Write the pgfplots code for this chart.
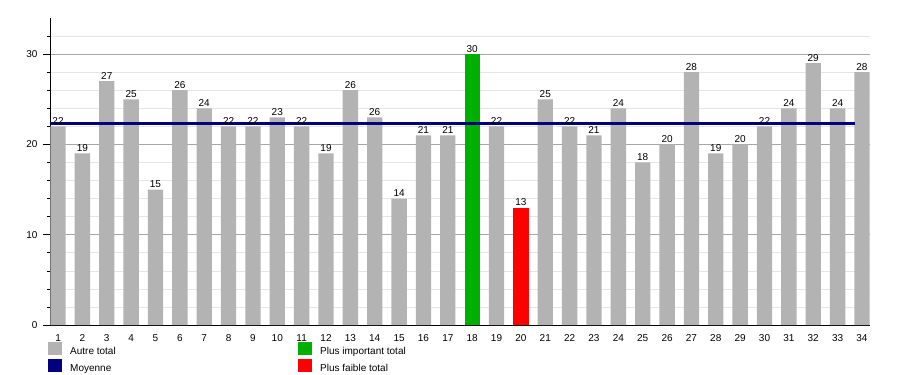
\documentclass[border=0pt]{standalone}
\usepackage{fontspec}
\setmainfont{Liberation Sans}
\usepackage{pgfplots}
\usepackage{pgfplotstable}
\pgfplotsset{compat=1.18}
\definecolor{barg}{HTML}{B3B3B3}
\definecolor{navy}{HTML}{000080}
\definecolor{bgreen}{HTML}{00B000}
\definecolor{bred}{HTML}{FF0000}
\pgfplotstableread{
x y lab
1 22 22
2 19 19
3 27 27
4 25 25
5 15 15
6 26 26
7 24 24
8 22 22
9 22 22
10 23 23
11 22 22
12 19 19
13 26 26
14 23 26
15 14 14
16 21 21
17 21 21
19 22 22
21 25 25
22 22 22
23 21 21
24 24 24
25 18 18
26 20 20
27 28 28
28 19 19
29 20 20
30 22 22
31 24 24
32 29 29
33 24 24
34 28 28
}\others
\pgfplotstableread{
x y lab
18 30 30
}\maxt
\pgfplotstableread{
x y lab
20 13 13
}\mint
\begin{document}
\fontsize{10bp}{12bp}\selectfont
\begin{tikzpicture}
\path[use as bounding box] (0,0) rectangle (900bp,375bp);
\begin{axis}[
  at={(50bp,50bp)}, anchor=south west, scale only axis,
  width=820bp, height=307bp,
  xmin=0.67, xmax=34.33, ymin=0, ymax=34,
  axis x line*=bottom, axis y line*=left,
  axis line style={black, line width=0.8bp},
  xtick={1,...,34}, x tick style={draw=none},
  ytick={0,10,20,30}, minor ytick={2,4,6,8,12,14,16,18,22,24,26,28,32},
  ymajorgrids, yminorgrids,
  major grid style={color=black!35, line width=0.6bp},
  minor grid style={color=black!10, line width=0.6bp},
  tick align=outside,
  y tick style={black, line width=0.6bp},
  major tick length=7bp, minor tick length=3bp,
  ticklabel style={font=\fontsize{10bp}{12bp}\selectfont},
  /pgf/number format/assume math mode=true,
  xticklabel style={yshift=1bp},
  yticklabel style={xshift=-2bp},
  ybar, bar width=0.63, bar shift=0pt,
  nodes near coords,
  point meta=explicit symbolic,
  every node near coord/.append style={font=\fontsize{10bp}{12bp}\selectfont, black, inner sep=1.5bp},
  clip=false,
]
\addplot[fill=barg, draw=none] table[x=x, y=y, meta=lab] {\others};
\addplot[fill=bgreen, draw=none] table[x=x, y=y, meta=lab] {\maxt};
\addplot[fill=bred, draw=none] table[x=x, y=y, meta=lab] {\mint};
\addplot[sharp plot, no marks, nodes near coords={}, navy, line width=3bp] coordinates {(0.67,22.35) (33.7,22.35)};
\end{axis}
% legend
\fill[barg] (48bp,20bp) rectangle (62bp,33bp);
\fill[navy] (48bp,3bp) rectangle (62bp,16bp);
\fill[bgreen] (298bp,20bp) rectangle (312bp,33bp);
\fill[bred] (298bp,3bp) rectangle (312bp,16bp);
\node[anchor=base west, inner sep=0pt] at (70bp,21bp) {Autre total};
\node[anchor=base west, inner sep=0pt] at (70bp,4bp) {Moyenne};
\node[anchor=base west, inner sep=0pt] at (320bp,21bp) {Plus important total};
\node[anchor=base west, inner sep=0pt] at (320bp,4bp) {Plus faible total};
\end{tikzpicture}
\end{document}
